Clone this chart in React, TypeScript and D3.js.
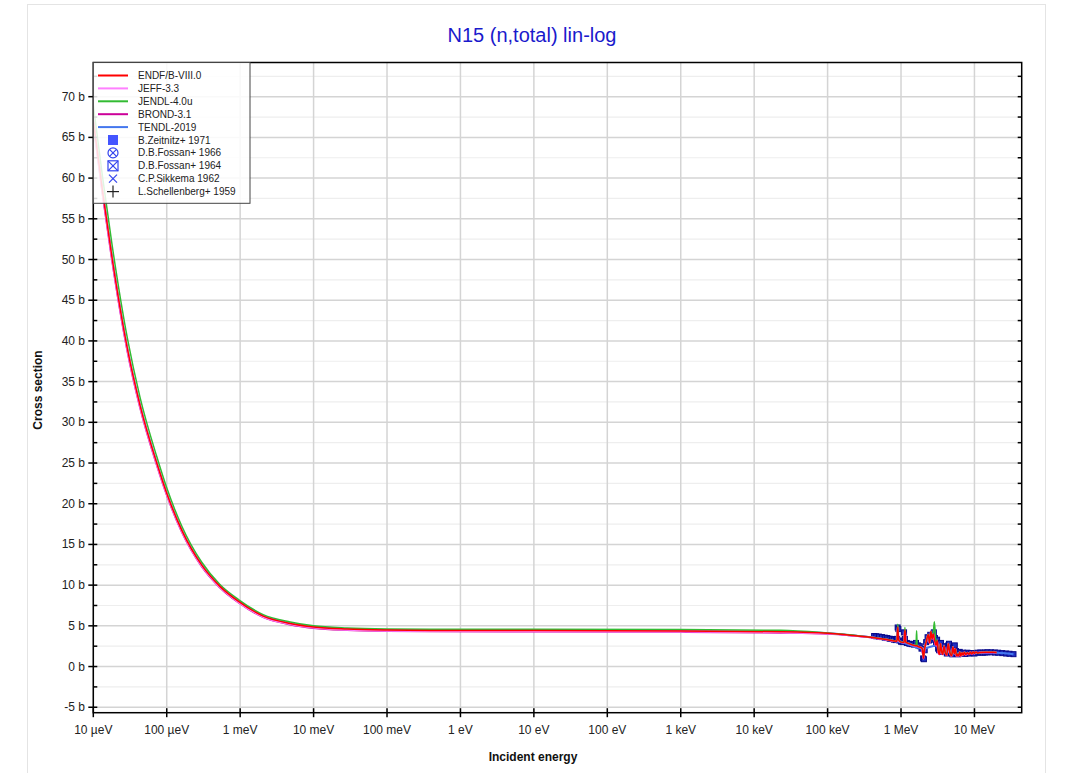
import React from "react";
import * as d3 from "d3";

// ---------- DATA ----------
const xTickValues = [1e-5, 1e-4, 1e-3, 1e-2, 1e-1, 1, 10, 100, 1e3, 1e4, 1e5, 1e6, 1e7];
const xTickLabels = ["10 µeV", "100 µeV", "1 meV", "10 meV", "100 meV", "1 eV", "10 eV", "100 eV", "1 keV", "10 keV", "100 keV", "1 MeV", "10 MeV"];
const yTickValues = [-5, 0, 5, 10, 15, 20, 25, 30, 35, 40, 45, 50, 55, 60, 65, 70];

// energies in eV, cross sections in barns
const lowE = [1e-5, 1.343e-5, 1.781e-5, 2.906e-5, 4.33e-5, 7.33e-5, 1e-4, 1.6e-4, 3e-4, 5.3e-4, 9.5e-4, 2.06e-3, 4.8e-3, 1e-2, 2.85e-2, 0.1, 0.39, 10, 1000, 2.29e4, 1e5];
const endfLow = [67.06, 58.22, 50.49, 39.08, 32.09, 24.97, 21.29, 16.75, 12.45, 9.85, 8.0, 6.2, 5.3, 4.86, 4.6, 4.48, 4.44, 4.42, 4.38, 4.27, 4.08];
const jendlLow = [68.94, 60.0, 52.1, 40.36, 33.07, 25.76, 21.95, 17.27, 12.81, 10.08, 8.23, 6.38, 5.48, 5.01, 4.74, 4.62, 4.59, 4.57, 4.54, 4.45, 4.12];
const jeffLow = [66.9, 58.05, 50.32, 38.92, 31.94, 24.84, 21.17, 16.64, 12.36, 9.77, 7.92, 6.12, 5.22, 4.78, 4.52, 4.4, 4.36, 4.34, 4.3, 4.2, 4.05];
const brondLow = [66.8, 57.95, 50.22, 38.82, 31.85, 24.76, 21.1, 16.57, 12.3, 9.72, 7.87, 6.07, 5.17, 4.74, 4.48, 4.36, 4.32, 4.3, 4.26, 4.16, 4.03];

// high-energy part (MeV, b)
const hiE = [0.2, 0.3, 0.43, 0.6, 0.8, 0.88, 0.905, 0.92, 1.0, 1.1, 1.13, 1.16, 1.3, 1.5, 1.6, 1.63, 1.66, 1.8, 1.95, 2.02, 2.08, 2.2, 2.35, 2.45, 2.55, 2.65, 2.75, 2.85, 3.0, 3.1, 3.2, 3.35, 3.45, 3.55, 3.7, 3.85, 4.0, 4.2, 4.4, 4.55, 4.7, 4.9, 5.1, 5.3, 5.5, 5.7, 5.9, 6.1, 6.3, 6.5, 6.8, 7.0, 7.3, 7.6, 8.0, 8.4, 8.8, 9.2, 9.6, 10, 10.5, 11, 12, 14, 16, 18, 20];
const endfHi = [3.85, 3.7, 3.55, 3.35, 3.15, 3.1, 4.85, 3.3, 3.0, 2.95, 4.5, 3.0, 2.8, 2.6, 2.55, 2.6, 2.5, 2.4, 2.2, 1.0, 2.0, 3.0, 3.9, 2.9, 4.3, 3.4, 4.0, 3.3, 2.6, 3.2, 2.0, 1.5, 2.8, 2.0, 1.5, 2.5, 1.7, 1.4, 2.8, 2.0, 1.5, 1.3, 2.4, 1.6, 2.2, 1.3, 1.5, 1.3, 1.8, 1.3, 1.7, 1.4, 1.75, 1.45, 1.7, 1.5, 1.75, 1.55, 1.8, 1.6, 1.8, 1.65, 1.72, 1.75, 1.75, 1.75, 1.74];
const jendlHi = [3.9, 3.72, 3.57, 3.37, 3.17, 3.12, 5.2, 3.35, 3.02, 2.97, 4.8, 3.02, 2.82, 2.62, 2.57, 4.4, 2.52, 2.42, 2.22, 1.1, 2.05, 3.05, 3.95, 2.95, 4.3, 3.45, 4.2, 5.5, 2.7, 3.25, 2.05, 1.6, 2.8, 2.05, 1.55, 2.5, 1.75, 1.45, 2.8, 2.05, 1.55, 1.35, 2.4, 1.65, 2.2, 1.35, 1.55, 1.35, 1.8, 1.35, 1.7, 1.45, 1.75, 1.5, 1.7, 1.55, 1.75, 1.6, 1.78, 1.62, 1.78, 1.67, 1.72, 1.75, 1.75, 1.75, 1.74];

// TENDL-2019 tail (MeV, b)
const tendlE = [0.2, 0.43, 0.8, 1.0, 2.0, 3.0, 5.0, 8.0, 10, 12, 15, 18, 20, 24, 28, 34];
const tendlXs = [3.85, 3.55, 3.15, 3.0, 2.2, 2.6, 1.6, 1.65, 1.65, 1.7, 1.72, 1.72, 1.7, 1.65, 1.6, 1.52];

// B.Zeitnitz+ 1971 (MeV, b)
const zeitE = [0.43, 0.46, 0.5, 0.55, 0.6, 0.65, 0.7, 0.75, 0.8, 0.85, 0.88, 0.9, 0.92, 0.95, 1.0, 1.05, 1.1, 1.13, 1.2, 1.3, 1.4, 1.5, 1.6, 1.7, 1.8, 1.9, 2.0, 2.05, 2.1, 2.2, 2.3, 2.4, 2.5, 2.6, 2.7, 2.8, 2.9, 3.0, 3.1, 3.2, 3.3, 3.4, 3.5, 3.6, 3.7, 3.8, 3.9, 4.0, 4.2, 4.4, 4.5, 4.6, 4.8, 5.0, 5.2, 5.4, 5.6, 5.8, 6.0, 6.3, 6.6, 7.0, 7.5, 8.0, 8.5, 9.0, 10, 11, 12, 13, 14, 15, 17, 19, 21, 24, 27, 30, 34];
const zeitXs = [3.75, 3.72, 3.68, 3.62, 3.55, 3.5, 3.42, 3.38, 3.3, 3.25, 3.4, 4.8, 4.6, 3.2, 3.05, 3.0, 4.2, 3.4, 2.9, 2.8, 2.75, 2.7, 2.9, 2.6, 2.5, 2.2, 1.0, 0.9, 2.0, 3.0, 3.6, 3.2, 3.9, 3.3, 3.6, 4.2, 3.5, 2.8, 3.3, 2.2, 2.0, 2.6, 2.9, 2.1, 1.8, 2.3, 2.5, 1.9, 1.6, 2.6, 2.8, 2.2, 1.7, 1.5, 2.3, 2.6, 1.9, 1.6, 1.5, 1.8, 1.6, 1.7, 1.55, 1.7, 1.6, 1.65, 1.6, 1.7, 1.72, 1.7, 1.72, 1.75, 1.75, 1.72, 1.7, 1.65, 1.6, 1.57, 1.52];

const legendNames = ["ENDF/B-VIII.0", "JEFF-3.3", "JENDL-4.0u", "BROND-3.1", "TENDL-2019", "B.Zeitnitz+ 1971", "D.B.Fossan+ 1966", "D.B.Fossan+ 1964", "C.P.Sikkema 1962", "L.Schellenberg+ 1959"];
const lineColors = ["#ff0000", "#ff80ff", "#33bb33", "#cc0099", "#4477ee"];

// ---------- LAYOUT ----------
const W = 1071, H = 773;
const L = 93.3, R = 1021.7, T = 62.5, B = 712.7;
const FONT = "'Liberation Sans', Arial, sans-serif";

export default function App() {
  const x = d3.scaleLog().domain([1e-5, 4.4e7]).range([L, R]);
  const y = d3.scaleLinear().domain([-5.67, 74.2]).range([B, T]);

  const mk = (E: number[], s: number[], mult = 1) => E.map((e, i) => [e * mult, s[i]] as [number, number]);
  const line = d3.line<[number, number]>().x(d => x(d[0])).y(d => y(d[1])).curve(d3.curveMonotoneX);

  const endf = [...mk(lowE, endfLow), ...mk(hiE, endfHi, 1e6)];
  const jendl = [...mk(lowE, jendlLow), ...mk(hiE, jendlHi, 1e6)];
  const jeff = [...mk(lowE, jeffLow), ...mk(hiE, endfHi, 1e6)];
  const brond = [...mk(lowE, brondLow), ...mk(hiE, endfHi, 1e6)];
  const tendl = [...mk(lowE, endfLow), ...mk(tendlE, tendlXs, 1e6)];
  const zeit = mk(zeitE, zeitXs, 1e6);

  const minorY = d3.range(-5, 75, 2.5);

  const legendRowY = (i: number) => 75.5 + i * 12.9;
  const mx = 113;

  return (
    <div style={{ position: "absolute", left: 0, top: 0 }}>
      <svg width={W} height={H} style={{ display: "block", fontFamily: FONT }}>
        <rect x={0} y={0} width={W} height={H} fill="#fff" />
        <rect x={27.5} y={4.5} width={1018} height={775} fill="none" stroke="#e4e4e4" />
        <text x={532} y={42} textAnchor="middle" fontSize={20} fill="#1a1acc">N15 (n,total) lin-log</text>

        <defs>
          <clipPath id="plotclip"><rect x={L} y={T} width={R - L} height={B - T} /></clipPath>
        </defs>

        {/* grid */}
        {minorY.map(v => (
          <line key={"gm" + v} x1={L} x2={R} y1={y(v)} y2={y(v)} stroke={v % 5 === 0 ? "#d4d4d4" : "#eeeeee"} strokeWidth={v % 5 === 0 ? 1.5 : 1.2} />
        ))}
        {xTickValues.map(v => (
          <line key={"gx" + v} x1={x(v)} x2={x(v)} y1={T} y2={B} stroke="#d4d4d4" strokeWidth={1.5} />
        ))}

        {/* data */}
        <g clipPath="url(#plotclip)">
          {zeit.map((d, i) => (
            <line key={"ze" + i} x1={x(d[0])} x2={x(d[0])} y1={y(d[1] + 0.2)} y2={y(d[1] - 0.2)} stroke="#0a0a90" strokeWidth={1} />
          ))}
          {zeit.map((d, i) => (
            <rect key={"z" + i} x={x(d[0]) - 2.5} y={y(d[1]) - 2.5} width={5} height={5} fill="#1f2fc0" stroke="#0a0a8a" strokeWidth={1} />
          ))}
          <path d={line(tendl) || ""} fill="none" stroke={lineColors[4]} strokeWidth={2} />
          <path d={line(brond) || ""} fill="none" stroke={lineColors[3]} strokeWidth={2} />
          <path d={line(jeff) || ""} fill="none" stroke={lineColors[1]} strokeWidth={2} />
          <path d={line(jendl) || ""} fill="none" stroke={lineColors[2]} strokeWidth={1.5} />
          <path d={line(endf) || ""} fill="none" stroke={lineColors[0]} strokeWidth={1.5} />
        </g>

        {/* frame */}
        <rect x={L} y={T} width={R - L} height={B - T} fill="none" stroke="#000" strokeWidth={1.5} />

        {/* y ticks */}
        {minorY.map(v => {
          const major = v % 5 === 0;
          return (
            <g key={"yt" + v}>
              <line x1={major ? L - 5 : L} x2={L + 4} y1={y(v)} y2={y(v)} stroke="#000" strokeWidth={1.5} />
              <line x1={R - 4} x2={R} y1={y(v)} y2={y(v)} stroke="#000" strokeWidth={1.5} />
            </g>
          );
        })}
        {yTickValues.map(v => (
          <text key={"yl" + v} x={85} y={y(v) + 4} textAnchor="end" fontSize={12} fill="#222">{v + " b"}</text>
        ))}

        {/* x ticks */}
        {xTickValues.map((v, i) => (
          <g key={"xt" + v}>
            <line x1={x(v)} x2={x(v)} y1={B - 4.5} y2={B + 4.5} stroke="#000" strokeWidth={1.5} />
            <text x={x(v)} y={734} textAnchor="middle" fontSize={12} fill="#222">{xTickLabels[i]}</text>
          </g>
        ))}

        <text x={533} y={761} textAnchor="middle" fontSize={12} fontWeight="bold" fill="#111">Incident energy</text>
        <text transform="translate(42,390) rotate(-90)" textAnchor="middle" fontSize={12} fontWeight="bold" fill="#111">Cross section</text>

        {/* legend */}
        <rect x={L} y={T} width={250 - L} height={203.3 - T} fill="#fff" fillOpacity={0.85} stroke="#444" strokeWidth={1} />
        {legendNames.map((n, i) => (
          <text key={"ln" + i} x={138} y={legendRowY(i) + 3.5} fontSize={10} fill="#222">{n}</text>
        ))}
        {lineColors.map((c, i) => (
          <line key={"ll" + i} x1={98} x2={128} y1={legendRowY(i)} y2={legendRowY(i)} stroke={c} strokeWidth={2} />
        ))}
        <rect x={mx - 5} y={legendRowY(5) - 5} width={10} height={10} fill="#4455ff" />
        <g stroke="#3344ee" strokeWidth={1.2} fill="none">
          <circle cx={mx} cy={legendRowY(6)} r={5} />
          <line x1={mx - 3.5} y1={legendRowY(6) - 3.5} x2={mx + 3.5} y2={legendRowY(6) + 3.5} />
          <line x1={mx - 3.5} y1={legendRowY(6) + 3.5} x2={mx + 3.5} y2={legendRowY(6) - 3.5} />
          <rect x={mx - 5} y={legendRowY(7) - 5} width={10} height={10} />
          <line x1={mx - 5} y1={legendRowY(7) - 5} x2={mx + 5} y2={legendRowY(7) + 5} />
          <line x1={mx - 5} y1={legendRowY(7) + 5} x2={mx + 5} y2={legendRowY(7) - 5} />
          <line x1={mx - 4} y1={legendRowY(8) - 4} x2={mx + 4} y2={legendRowY(8) + 4} />
          <line x1={mx - 4} y1={legendRowY(8) + 4} x2={mx + 4} y2={legendRowY(8) - 4} />
        </g>
        <g stroke="#222" strokeWidth={1.2}>
          <line x1={mx - 6} y1={legendRowY(9)} x2={mx + 6} y2={legendRowY(9)} />
          <line x1={mx} y1={legendRowY(9) - 6} x2={mx} y2={legendRowY(9) + 6} />
        </g>
      </svg>
    </div>
  );
}
